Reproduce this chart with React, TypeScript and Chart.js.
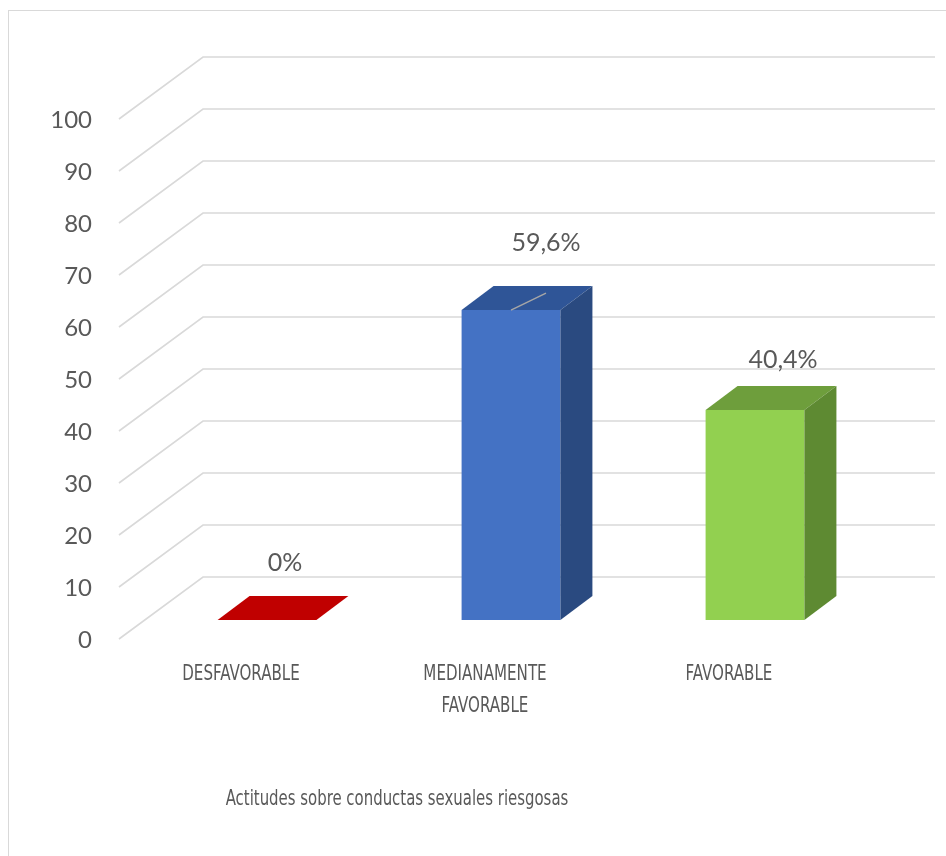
import React, { useEffect, useRef } from "react";
import { Chart, registerables } from "chart.js";

Chart.register(...registerables);

// ---------------- data ----------------
const categories: string[][] = [["DESFAVORABLE"], ["MEDIANAMENTE", "FAVORABLE"], ["FAVORABLE"]];
const values: number[] = [0, 59.6, 40.4];
const valueLabels: string[] = ["0%", "59,6%", "40,4%"];
const yMin = 0;
const yMax = 100;
const yStep = 10;
const axisTitle = "Actitudes sobre conductas sexuales riesgosas";

// ---------------- styles ----------------
const frontColors = ["#C00000", "#4472C4", "#92D050"];
const topColors = ["#C00000", "#2F5597", "#6E9E3C"];
const sideColors = ["#A00000", "#2A4A80", "#5E8A32"];
const textColor = "#595959";
const gridColor = "#D9D9D9";
const tickFont = "Lato";
const narrowFont = "'DejaVu Sans Condensed', 'DejaVu Sans', sans-serif";
const NARROW_SCALE = 0.8;
const TITLE_SCALE = 0.79;

// 3D geometry (pixel offsets of the oblique projection)
const BAR_DEPTH = { dx: 32, dy: -24 };
const WALL_FRONT = { dx: -26, dy: 19 };
const WALL_BACK = { dx: 58, dy: -43 };
const LABEL_NUDGE = [
  { dx: 18, dy: -33 },
  { dx: 35, dy: -43 },
  { dx: 28, dy: -26 },
];
const LEADER_INDEX = 1;

function scaledText(ctx: CanvasRenderingContext2D, text: string, x: number, y: number, sx: number) {
  ctx.save();
  ctx.translate(x, y);
  ctx.scale(sx, 1);
  ctx.fillText(text, 0, 0);
  ctx.restore();
}

const threeD = {
  id: "threeD",
  beforeDatasetsDraw(chart: any) {
    const { ctx, chartArea, scales } = chart;
    const ys = scales.y;
    ctx.save();
    ctx.strokeStyle = gridColor;
    ctx.lineWidth = 1.6;
    for (let v = yMin; v <= yMax; v += yStep) {
      const y = ys.getPixelForValue(v);
      ctx.beginPath();
      ctx.moveTo(chartArea.left + WALL_FRONT.dx, y + WALL_FRONT.dy);
      ctx.lineTo(chartArea.left + WALL_BACK.dx, y + WALL_BACK.dy);
      ctx.lineTo(chartArea.right + WALL_BACK.dx, y + WALL_BACK.dy);
      ctx.stroke();
    }
    ctx.restore();
  },
  afterDatasetsDraw(chart: any) {
    const { ctx, chartArea, scales } = chart;
    const meta = chart.getDatasetMeta(0);
    ctx.save();
    meta.data.forEach((bar: any, i: number) => {
      const { x, y, base, width } = bar.getProps(["x", "y", "base", "width"], true);
      const l = x - width / 2;
      const r = x + width / 2;
      const { dx, dy } = BAR_DEPTH;
      // top face
      ctx.fillStyle = topColors[i];
      ctx.beginPath();
      ctx.moveTo(l, y);
      ctx.lineTo(r, y);
      ctx.lineTo(r + dx, y + dy);
      ctx.lineTo(l + dx, y + dy);
      ctx.closePath();
      ctx.fill();
      // side face
      if (base - y > 0.5) {
        ctx.fillStyle = sideColors[i];
        ctx.beginPath();
        ctx.moveTo(r, y);
        ctx.lineTo(r + dx, y + dy);
        ctx.lineTo(r + dx, base + dy);
        ctx.lineTo(r, base);
        ctx.closePath();
        ctx.fill();
      }
      // value label
      const lx = x + LABEL_NUDGE[i].dx;
      const ly = y + dy + LABEL_NUDGE[i].dy;
      if (i === LEADER_INDEX) {
        ctx.strokeStyle = "#A6A6A6";
        ctx.lineWidth = 1.5;
        ctx.beginPath();
        ctx.moveTo(x, y);
        ctx.lineTo(x + dx + 3, y + dy + 7);
        ctx.stroke();
      }
      ctx.fillStyle = textColor;
      ctx.font = `25px ${tickFont}`;
      ctx.textAlign = "center";
      ctx.textBaseline = "middle";
      ctx.fillText(valueLabels[i], lx, ly);
    });

    // category labels (on the front edge of the floor)
    const xs = scales.x;
    ctx.fillStyle = textColor;
    ctx.font = `21px ${narrowFont}`;
    ctx.textAlign = "center";
    ctx.textBaseline = "middle";
    categories.forEach((lines, i) => {
      const cx = xs.getPixelForValue(i) + WALL_FRONT.dx;
      lines.forEach((line, k) => {
        scaledText(ctx, line, cx, chartArea.bottom + 55 + k * 32, NARROW_SCALE);
      });
    });

    // axis title
    ctx.font = `21px ${narrowFont}`;
    scaledText(ctx, axisTitle, 397, 800, TITLE_SCALE);
    ctx.restore();
  },
};

export default function App() {
  const ref = useRef<HTMLCanvasElement | null>(null);
  useEffect(() => {
    if (!ref.current) return;
    const chart = new Chart(ref.current, {
      type: "bar",
      data: {
        labels: categories.map((c) => c.join(" ")),
        datasets: [
          {
            data: values,
            backgroundColor: frontColors,
            borderWidth: 0,
            categoryPercentage: 1,
            barPercentage: 0.405,
          },
        ],
      },
      options: {
        responsive: false,
        animation: false,
        events: [],
        layout: { padding: { left: 0, top: 100, right: 69, bottom: 0 } },
        plugins: { legend: { display: false }, tooltip: { enabled: false }, title: { display: false } },
        scales: {
          x: {
            grid: { display: false, drawTicks: false },
            border: { display: false },
            ticks: { display: false },
            afterFit(scale: any) {
              scale.height = 236;
            },
          },
          y: {
            min: yMin,
            max: yMax,
            grid: { display: false, drawTicks: false },
            border: { display: false },
            ticks: {
              stepSize: yStep,
              color: textColor,
              font: { family: tickFont, size: 24 },
              padding: 53,
              labelOffset: 20,
            },
            afterFit(scale: any) {
              scale.width = 145;
            },
          },
        },
      },
      plugins: [threeD],
    });
    return () => chart.destroy();
  }, []);
  return (
    <>
      <div
        style={{
          position: "fixed",
          left: 8,
          top: 10,
          width: 940,
          height: 848,
          borderLeft: "1.5px solid #D9D9D9",
          borderTop: "1.5px solid #D9D9D9",
          boxSizing: "border-box",
        }}
      />
      <canvas
        ref={ref}
        width={946}
        height={856}
        style={{ position: "fixed", left: 0, top: 0, width: 946, height: 856 }}
      />
    </>
  );
}
